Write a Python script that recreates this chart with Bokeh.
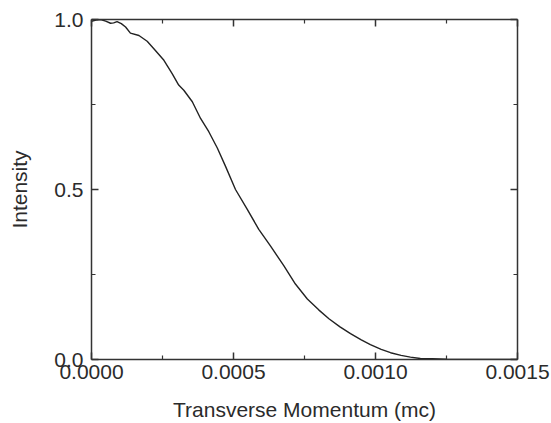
from bokeh.plotting import figure
from bokeh.models import LinearAxis, Range1d, FixedTicker
from bokeh.embed import file_html
from bokeh.resources import INLINE

# Data
momentum = [0.0, 0.000016, 0.000032, 0.000050, 0.000067, 0.000078, 0.000090, 0.000105,
            0.000120, 0.000137, 0.000167, 0.000196, 0.000225, 0.000255, 0.000284,
            0.000307, 0.000325, 0.000355, 0.000384, 0.000413, 0.000443,
            0.000472, 0.000507, 0.000548, 0.000589,
            0.000630, 0.000677, 0.000718, 0.000760, 0.000800, 0.000836, 0.000875,
            0.000912, 0.000950, 0.000982, 0.001020, 0.001053, 0.001090, 0.001123,
            0.001158, 0.001200, 0.001250, 0.001300, 0.001350, 0.001400, 0.001450, 0.001500]
intensity = [0.995, 0.998, 1.000, 0.995, 0.989, 0.990, 0.994, 0.988,
             0.978, 0.960, 0.953, 0.936, 0.909, 0.880, 0.841,
             0.807, 0.792, 0.758, 0.709, 0.670, 0.622,
             0.568, 0.500, 0.442, 0.383,
             0.334, 0.276, 0.222, 0.178, 0.146, 0.120, 0.096,
             0.076, 0.058, 0.044, 0.030, 0.020, 0.012, 0.007,
             0.003, 0.002, 0.001, 0.0005, 0.0003, 0.0002, 0.0002, 0.0001]

x_ticks = [0.0, 0.0005, 0.0010, 0.0015]
x_tick_labels = ["0.0000", "0.0005", "0.0010", "0.0015"]
x_minor = [0.00025, 0.00075, 0.00125]
y_ticks = [0.0, 0.5, 1.0]
y_tick_labels = ["0.0", "0.5", "1.0"]
y_minor = [0.25, 0.75]

TEXT = "#2b2b2b"
FONT = "Liberation Sans"

p = figure(width=551, height=423, output_backend="svg", toolbar_location=None,
           x_range=Range1d(0, 0.0015), y_range=Range1d(0, 1.0),
           x_axis_label="Transverse Momentum (mc)", y_axis_label="Intensity",
           min_border_left=91, min_border_right=34, min_border_top=19, min_border_bottom=62)

p.line(momentum, intensity, line_color="#222222", line_width=1.4)

p.grid.visible = False
p.outline_line_color = None
p.background_fill_color = "white"
p.border_fill_color = "white"

def style(ax, labels, ticks, minor, show_labels=True):
    ax.ticker = FixedTicker(ticks=ticks, minor_ticks=minor)
    ax.axis_line_color = "#333333"
    ax.axis_line_width = 1.5
    ax.major_tick_line_color = "#333333"
    ax.minor_tick_line_color = "#333333"
    ax.major_tick_line_width = 1.5
    ax.minor_tick_line_width = 1.2
    ax.major_tick_in = 7
    ax.major_tick_out = 0
    ax.minor_tick_in = 4
    ax.minor_tick_out = 0
    if show_labels:
        ax.major_label_overrides = {t: l for t, l in zip(ticks, labels)}
        ax.major_label_text_font = FONT
        ax.major_label_text_font_size = "21px"
        ax.major_label_text_color = TEXT
        ax.axis_label_text_font = FONT
        ax.axis_label_text_font_size = "21px"
        ax.axis_label_text_font_style = "normal"
        ax.axis_label_text_color = TEXT
    else:
        ax.major_label_overrides = {t: "" for t in ticks}
        ax.major_label_text_font_size = "8px"
        ax.major_label_standoff = 0

style(p.xaxis[0], x_tick_labels, x_ticks, x_minor)
style(p.yaxis[0], y_tick_labels, y_ticks, y_minor)
p.xaxis[0].major_label_standoff = 5
p.xaxis[0].axis_label_standoff = 16
p.yaxis[0].major_label_standoff = 8
p.yaxis[0].axis_label_standoff = 20

top = LinearAxis()
style(top, x_tick_labels, x_ticks, x_minor, show_labels=False)
p.add_layout(top, "above")
right = LinearAxis()
style(right, y_tick_labels, y_ticks, y_minor, show_labels=False)
p.add_layout(right, "right")

open("out.html", "w").write(file_html(p, INLINE))
